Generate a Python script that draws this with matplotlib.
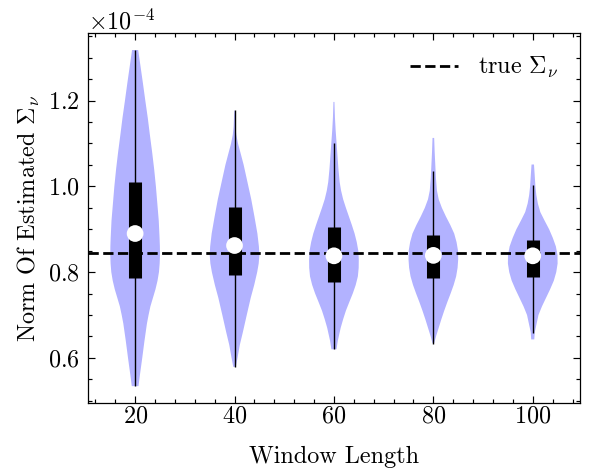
import matplotlib
matplotlib.use("Agg")
import matplotlib.pyplot as plt
import numpy as np
from matplotlib.ticker import MultipleLocator

# ---- data (values in units of 1e-4) ----
window_lengths = [20, 40, 60, 80, 100]
medians = [0.890, 0.862, 0.838, 0.839, 0.838]
q1 = [0.786, 0.794, 0.777, 0.786, 0.789]
q3 = [1.010, 0.953, 0.905, 0.886, 0.875]
whisker_lo = [0.534, 0.579, 0.621, 0.633, 0.659]
whisker_hi = [1.318, 1.177, 1.101, 1.036, 1.004]
true_sigma = 0.8444

# violin outlines: y positions and relative density
v20_y = [0.534, 0.56, 0.60, 0.64, 0.68, 0.70, 0.72, 0.74, 0.76, 0.78, 0.80, 0.82, 0.84, 0.86,
         0.88, 0.92, 0.96, 1.00, 1.04, 1.08, 1.12, 1.16, 1.20, 1.24, 1.28, 1.318]
v20_d = [3.3, 4.7, 7.0, 9.2, 11.6, 13.2, 15.0, 17.5, 20.0, 22.0, 23.4, 24.1, 24.4, 24.3,
         24.0, 23.2, 21.8, 20.4, 18.7, 16.7, 14.5, 12.4, 10.0, 7.7, 5.3, 3.0]
v40_y = [0.579, 0.60, 0.63, 0.66, 0.70, 0.74, 0.77, 0.80, 0.82, 0.84, 0.86, 0.89, 0.93, 0.97,
         1.01, 1.05, 1.08, 1.10, 1.12, 1.14, 1.177]
v40_d = [1.3, 3.0, 5.3, 8.4, 12.3, 16.3, 19.8, 22.8, 24.3, 25.0, 24.5, 23.0, 20.0, 16.8,
         13.0, 9.2, 5.8, 3.5, 1.8, 0.9, 0.3]
v60_y = [0.620, 0.64, 0.67, 0.69, 0.71, 0.73, 0.75, 0.77, 0.79, 0.81, 0.83, 0.85, 0.87, 0.89,
         0.91, 0.93, 0.95, 0.97, 0.99, 1.01, 1.04, 1.07, 1.10, 1.13, 1.16, 1.197]
v60_d = [2.5, 3.8, 6.6, 9.0, 11.7, 15.0, 18.4, 21.3, 23.4, 24.2, 24.3, 23.8, 22.3, 20.2,
         17.5, 14.6, 11.7, 9.0, 7.0, 5.6, 4.4, 3.5, 2.6, 1.7, 1.0, 0.5]
v80_y = [0.634, 0.65, 0.67, 0.69, 0.71, 0.73, 0.75, 0.77, 0.79, 0.81, 0.83, 0.85, 0.87, 0.89,
         0.91, 0.93, 0.95, 0.97, 0.99, 1.02, 1.05, 1.08, 1.113]
v80_d = [0.8, 2.6, 5.2, 7.8, 10.6, 13.6, 16.8, 19.8, 22.2, 23.6, 24.2, 24.0, 22.6, 20.3,
         16.5, 12.2, 8.3, 5.2, 3.5, 2.5, 1.9, 1.3, 0.8]
v100_y = [0.643, 0.66, 0.68, 0.70, 0.72, 0.74, 0.76, 0.78, 0.80, 0.82, 0.84, 0.86, 0.88, 0.90,
          0.92, 0.94, 0.96, 0.98, 1.00, 1.03, 1.051]
v100_d = [1.5, 2.0, 3.8, 5.6, 9.0, 13.0, 17.0, 20.6, 23.0, 24.3, 24.2, 22.6, 19.6, 16.0,
          11.6, 7.4, 5.0, 3.5, 2.6, 1.8, 1.2]

violin_y = [v20_y, v40_y, v60_y, v80_y, v100_y]
violin_d = [v20_d, v40_d, v60_d, v80_d, v100_d]

SCALE = 1e-4

plt.rcParams.update({
    "font.family": "cmr10",
    "mathtext.fontset": "cm",
    "axes.formatter.use_mathtext": True,
    "axes.unicode_minus": False,
    "font.size": 17.4,
    "xtick.direction": "in",
    "ytick.direction": "in",
    "xtick.top": True,
    "ytick.right": True,
    "xtick.major.size": 5,
    "ytick.major.size": 5,
    "xtick.minor.size": 2.8,
    "ytick.minor.size": 2.8,
    "xtick.major.width": 0.85,
    "ytick.major.width": 0.85,
    "xtick.minor.width": 0.85,
    "ytick.minor.width": 0.85,
    "xtick.major.pad": 2,
    "ytick.major.pad": 6,
    "axes.linewidth": 0.9,
})

fig = plt.figure(figsize=(5.9, 4.68), dpi=100)
ax = fig.add_axes([0.149, 0.139, 0.834, 0.790])

vpstats = []
for ys, ds, med in zip(violin_y, violin_d, medians):
    ys = np.asarray(ys) * SCALE
    vpstats.append({
        "coords": ys,
        "vals": np.asarray(ds, dtype=float),
        "mean": med * SCALE,
        "median": med * SCALE,
        "min": ys.min(),
        "max": ys.max(),
    })

parts = ax.violin(vpstats, positions=window_lengths, widths=10,
                  showmeans=False, showextrema=False, showmedians=False)
for body in parts["bodies"]:
    body.set_facecolor("blue")
    body.set_edgecolor("none")
    body.set_alpha(0.3)

ax.axhline(true_sigma * SCALE, color="black", linestyle="--", lw=2.0,
           label=r"true $\Sigma_\nu$", zorder=2)

ax.vlines(window_lengths, np.array(whisker_lo) * SCALE, np.array(whisker_hi) * SCALE,
          color="black", lw=1.0, zorder=3)
ax.vlines(window_lengths, np.array(q1) * SCALE, np.array(q3) * SCALE,
          color="black", lw=9.4, zorder=3, capstyle="butt")
ax.scatter(window_lengths, np.array(medians) * SCALE, marker="o", color="white",
           s=145, zorder=4, edgecolors="none")

ax.set_xticks(window_lengths)
ax.xaxis.set_minor_locator(MultipleLocator(4))
ax.yaxis.set_major_locator(MultipleLocator(0.2 * SCALE))
ax.yaxis.set_minor_locator(MultipleLocator(0.05 * SCALE))
ax.ticklabel_format(style="sci", axis="y", scilimits=(0, 0), useMathText=True)

ax.set_xlabel("Window Length", labelpad=13)
ax.set_ylabel(r"Norm Of Estimated $\Sigma_\nu$")

ax.legend(loc="upper right", frameon=False, handlelength=2.0)

fig.savefig("out.png", dpi=100)
